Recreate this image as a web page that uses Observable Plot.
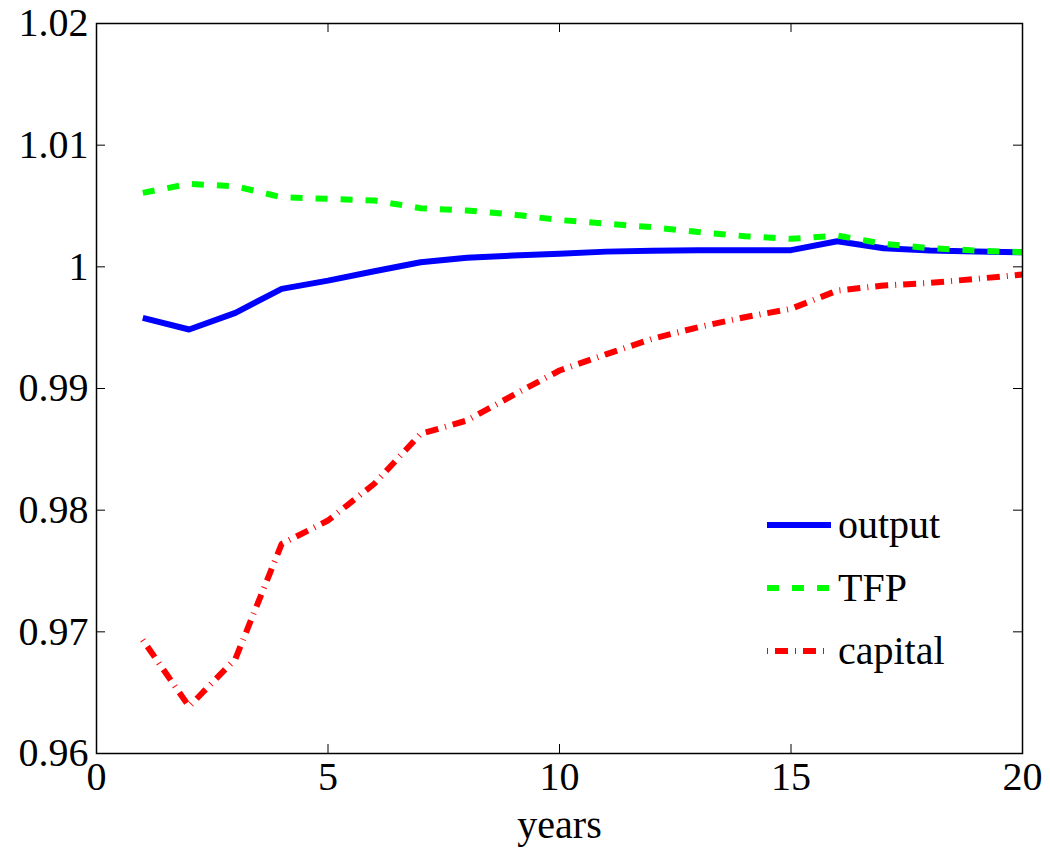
<!DOCTYPE html>
<html>
<head>
<meta charset="utf-8">
<script src="https://cdn.jsdelivr.net/npm/d3@7"></script>
<script src="https://cdn.jsdelivr.net/npm/@observablehq/plot@0.6"></script>
<style>
  html, body { margin: 0; padding: 0; background: white; }
  #wrap { position: relative; width: 1050px; height: 850px; }
  #legend { position: absolute; left: 0; top: 0; pointer-events: none; }
</style>
</head>
<body>
<div id="wrap"></div>
<script>
// ---- data ----
const years = [1, 2, 3, 4, 5, 6, 7, 8, 9, 10, 11, 12, 13, 14, 15, 16, 17, 18, 19, 20];
const output = [0.9958, 0.99485, 0.99622, 0.99819, 0.99887, 0.99964, 1.00038, 1.00074, 1.00093, 1.00107,
                1.00125, 1.00132, 1.00136, 1.00136, 1.00137, 1.0021, 1.00153, 1.00134, 1.00126, 1.0012];
const tfp = [1.00608, 1.00682, 1.00662, 1.00572, 1.00559, 1.00545, 1.00482, 1.00463, 1.0043, 1.00385,
             1.00355, 1.00326, 1.00286, 1.00252, 1.0023, 1.00257, 1.00189, 1.00153, 1.00134, 1.0012];
const capital = [0.96934, 0.96386, 0.96778, 0.97723, 0.97915, 0.98217, 0.98627, 0.98737, 0.98945, 0.99148,
                 0.9928, 0.99408, 0.99504, 0.99586, 0.99655, 0.99805, 0.99846, 0.99868, 0.99901, 0.99937];
const seriesNames = ["output", "TFP", "capital"];
const xTicks = [0, 5, 10, 15, 20];
const yTicks = [0.96, 0.97, 0.98, 0.99, 1, 1.01, 1.02];
const xLabel = "years";

// ---- build table ----
const seriesValues = {output, TFP: tfp, capital};
const table = seriesNames.flatMap(s => years.map((yr, i) => ({series: s, year: yr, value: seriesValues[s][i]})));

// ---- styles ----
const W = 1050, H = 850, mL = 96, mR = 28, mT = 23, mB = 97;
const plotW = W - mL - mR, plotH = H - mT - mB, tickLen = 9;
const styles = {
  output:  {stroke: "#0000ff", strokeWidth: 6, strokeDasharray: null},
  TFP:     {stroke: "#00ff00", strokeWidth: 6, strokeDasharray: "12,13"},
  capital: {stroke: "#ff0000", strokeWidth: 6, strokeDasharray: "1,7,13,7"}
};
const font = "'Liberation Serif', 'Times New Roman', serif";

const plot = Plot.plot({
  width: W, height: H,
  marginLeft: mL, marginRight: mR, marginTop: mT, marginBottom: mB,
  style: {fontFamily: font, fontSize: "40px", color: "black", background: "white", overflow: "visible"},
  x: {domain: [xTicks[0], xTicks[xTicks.length - 1]], label: null},
  y: {domain: [yTicks[0], yTicks[yTicks.length - 1]], label: null},
  marks: [
    Plot.axisX(xTicks, {tickSize: 0, tickPadding: 8, fontSize: 40, label: xLabel, labelAnchor: "center", labelArrow: "none", labelOffset: 84}),
    Plot.axisY(yTicks, {tickSize: 0, tickPadding: 8, fontSize: 40, tickFormat: d3.format("~g"), label: null}),
    Plot.tickX(xTicks, {x: d => d, insetTop: plotH - tickLen, stroke: "black", strokeWidth: 1}),
    Plot.tickX(xTicks, {x: d => d, insetBottom: plotH - tickLen, stroke: "black", strokeWidth: 1}),
    Plot.tickY(yTicks, {y: d => d, insetRight: plotW - tickLen, stroke: "black", strokeWidth: 1}),
    Plot.tickY(yTicks, {y: d => d, insetLeft: plotW - tickLen, stroke: "black", strokeWidth: 1}),
    ...seriesNames.map(s => Plot.line(table.filter(d => d.series === s), {
      x: "year", y: "value",
      stroke: styles[s].stroke, strokeWidth: styles[s].strokeWidth,
      strokeDasharray: styles[s].strokeDasharray,
      strokeLinejoin: "round", strokeLinecap: "butt"
    })),
    Plot.frame({stroke: "black", strokeWidth: 1.5})
  ]
});
document.getElementById("wrap").appendChild(plot);

// ---- legend (inside plot area, overlay) ----
const lg = d3.select("#wrap").append("svg").attr("id", "legend")
  .attr("width", W).attr("height", H);
const lgX0 = 767, lgX1 = 831, lgY0 = 525, lgDy = 63, lgTextX = 838;
seriesNames.forEach((s, i) => {
  const y = lgY0 + i * lgDy;
  lg.append("line")
    .attr("x1", lgX0).attr("x2", lgX1).attr("y1", y).attr("y2", y)
    .attr("stroke", styles[s].stroke).attr("stroke-width", styles[s].strokeWidth)
    .attr("stroke-dasharray", styles[s].strokeDasharray);
  lg.append("text")
    .attr("x", lgTextX).attr("y", y).attr("dy", "0.32em")
    .attr("font-family", font).attr("font-size", 40).attr("fill", "black")
    .text(s);
});
</script>
</body>
</html>
